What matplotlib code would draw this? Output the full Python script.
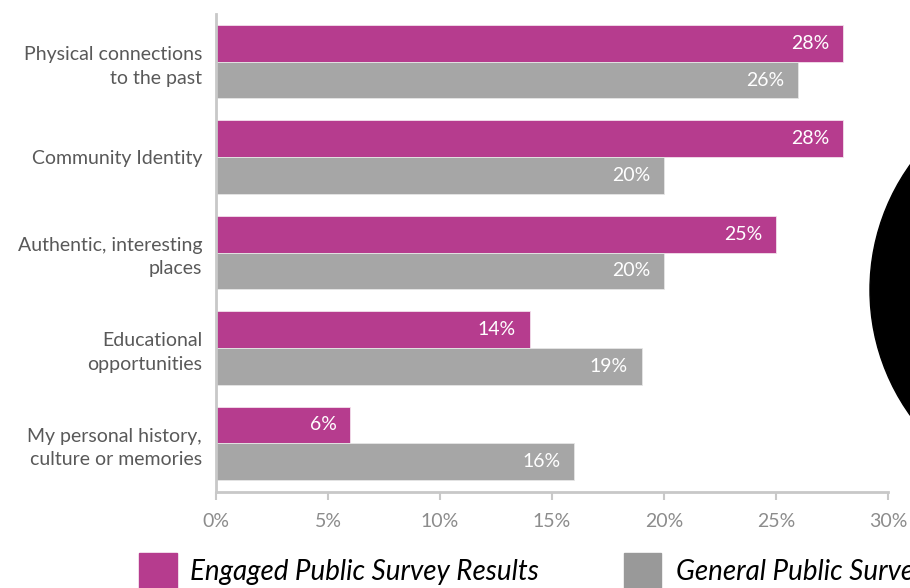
import numpy as np
import matplotlib
matplotlib.use('Agg')
import matplotlib.pyplot as plt
from matplotlib.patches import Ellipse, Rectangle

categories = ["Physical connections\nto the past",
              "Community Identity",
              "Authentic, interesting\nplaces",
              "Educational\nopportunities",
              "My personal history,\nculture or memories"]
engaged = [28, 28, 25, 14, 6]
general = [26, 20, 20, 19, 16]
xticks = [0, 5, 10, 15, 20, 25, 30]
series_names = ["Engaged Public Survey Results", "General Public Survey Results"]

magenta = "#B63C8E"
grey = "#A6A6A6"
axis_grey = "#C8C8C8"

plt.rcParams['font.family'] = ['Lato', 'DejaVu Sans']

W, H = 910, 588
fig = plt.figure(figsize=(W / 100, H / 100), dpi=100)

# big black disc sitting off the right edge
fig.add_artist(Ellipse((1085 / W, (H - 290) / H), 430 / W, 430 / H,
                       transform=fig.transFigure, color="black", zorder=0))

ax = fig.add_axes([216 / W, (H - 492) / H, (888 - 216) / W, (492 - 14) / H])
ax.patch.set_alpha(0)

y = np.arange(len(categories))
h = 37 / 96
ax.barh(y - h / 2, engaged, height=h, color=magenta, edgecolor="#F3E0EC", linewidth=0.6)
ax.barh(y + h / 2, general, height=h, color=grey, edgecolor="#E6E6E6", linewidth=0.6)

for yi, v in zip(y - h / 2, engaged):
    ax.annotate(f"{v}%", (v, yi), xytext=(-14, 0), textcoords="offset pixels",
                ha="right", va="center", color="white", fontsize=14)
for yi, v in zip(y + h / 2, general):
    ax.annotate(f"{v}%", (v, yi), xytext=(-14, 0), textcoords="offset pixels",
                ha="right", va="center", color="white", fontsize=14)

ax.set_xlim(0, 30)
ax.set_ylim(len(categories) - 0.5 + 0.01, -0.5)
ax.set_xticks(xticks)
ax.set_xticklabels([f"{t}%" for t in xticks], color="#8C8C8C", fontsize=14)
ax.set_yticks(y)
ax.set_yticklabels(categories, color="#595959", fontsize=14, ha="right",
                   multialignment="right", linespacing=1.45)
ax.tick_params(axis="y", length=0, pad=10)
ax.tick_params(axis="x", length=6, width=1.5, color=axis_grey, pad=9)

for s in ["top", "right"]:
    ax.spines[s].set_visible(False)
ax.spines["left"].set_color(axis_grey)
ax.spines["bottom"].set_color(axis_grey)
ax.spines["left"].set_linewidth(2)
ax.spines["bottom"].set_linewidth(2)

# legend drawn by hand along the bottom edge
fig.add_artist(Rectangle((139 / W, 0), 38 / W, 35 / H, transform=fig.transFigure,
                         color=magenta))
fig.text(190 / W, (H - 572) / H, series_names[0], fontsize=20, style="italic",
         va="center", ha="left", color="black")
fig.add_artist(Rectangle((624 / W, 0), 37 / W, 35 / H, transform=fig.transFigure,
                         color="#999999"))
fig.text(676 / W, (H - 572) / H, series_names[1], fontsize=20, style="italic",
         va="center", ha="left", color="black")

fig.savefig("out.png", dpi=100)
